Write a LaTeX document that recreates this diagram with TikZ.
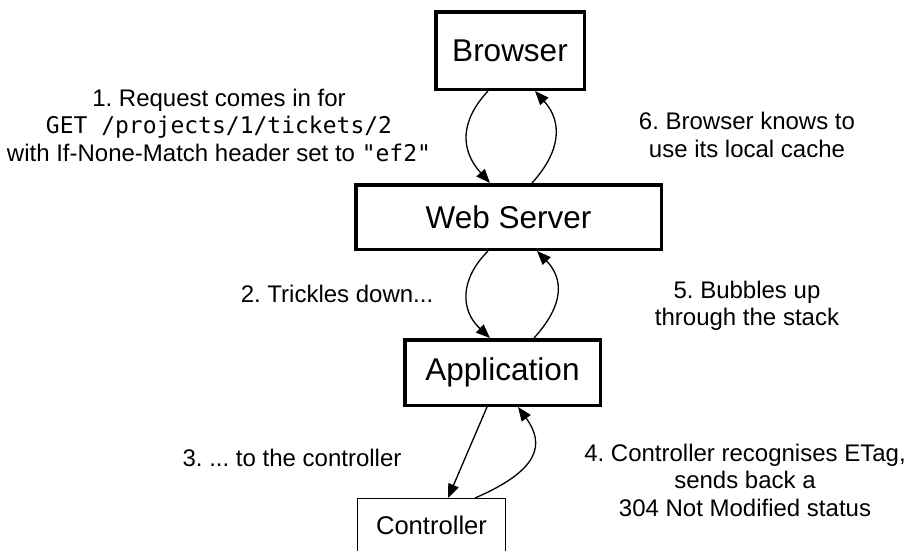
\documentclass[tikz,border=0pt]{standalone}
\usepackage{fontspec}
\setmainfont{Liberation Sans}
\setmonofont{DejaVu Sans Mono}
\usetikzlibrary{arrows.meta}
\frenchspacing
\begin{document}
\begin{tikzpicture}[x=1pt,y=-1pt,
  bigbox/.style={draw, line width=3.5pt, inner sep=0pt, font=\fontsize{31.5}{36}\selectfont},
  smallbox/.style={draw, line width=1.3pt, inner sep=0pt, font=\fontsize{25.6}{30}\selectfont},
  lab/.style={font=\fontsize{24}{27.5}\selectfont, align=center, inner sep=0pt},
  arr/.style={line width=1.3pt, -{Triangle[length=14pt,width=11pt]}}]
\useasboundingbox (0,0) rectangle (908,550);

\node[bigbox, minimum width=148.5pt, minimum height=77.5pt] (browser) at (510,50.5) {Browser};
\node[bigbox, minimum width=305.5pt, minimum height=64.5pt] (ws) at (508.5,217) {Web Server};
\node[bigbox, minimum width=195.5pt, minimum height=65.5pt] (app) at (502.5,372.5) {Application};
\node[smallbox, minimum width=147.7pt, minimum height=52.7pt] (ctrl) at (431.5,525) {Controller};

\node[lab] (l1) at (219,125) {1. Request comes in for\\
  {\ttfamily\fontsize{23}{27.5}\selectfont GET /projects/1/tickets/2}\\
  with If-None-Match header set to {\ttfamily\fontsize{23}{27.5}\selectfont "ef2"}};
\node[lab] (l6) at (747,135) {6. Browser knows to\\use its local cache};
\node[lab] (l2) at (337,294) {2. Trickles down...};
\node[lab] (l5) at (747,306) {5. Bubbles up\\through the stack};
\node[lab] (l3) at (292,458) {3. ... to the controller};
\node[lab] (l4) at (745,480) {4. Controller recognises ETag,\\sends back a\\304 Not Modified status};

\draw[arr] ([xshift=-22pt]browser.south) .. controls +(-28,30) and +(-30,-33) .. ([xshift=-18.5pt]ws.north);
\draw[arr] ([xshift=23.5pt]ws.north) .. controls +(30,-33) and +(27,30) .. ([xshift=25pt]browser.south);
\draw[arr] ([xshift=-20.5pt]ws.south) .. controls +(-28,28) and +(-30,-28) .. ([xshift=-12.5pt]app.north);
\draw[arr] ([xshift=31.5pt]app.north) .. controls +(30,-33) and +(27,28) .. ([xshift=28.5pt]ws.south);
\draw[arr] ([xshift=-15.5pt]app.south) -- ([xshift=16.5pt]ctrl.north);
\draw[arr] ([xshift=43.5pt]ctrl.north) .. controls +(65,-28) and +(27,37) .. ([xshift=15.5pt]app.south);
\end{tikzpicture}
\end{document}
